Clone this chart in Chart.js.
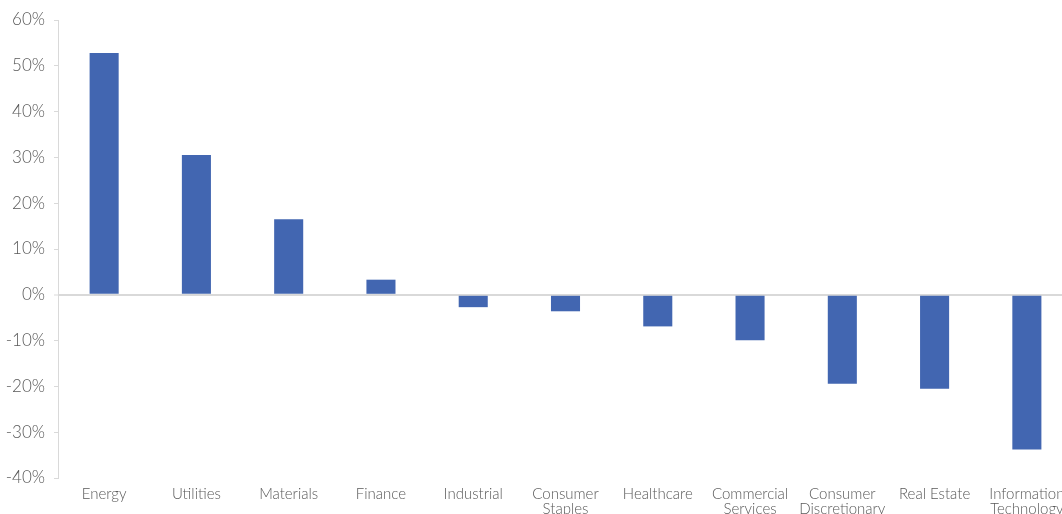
<!DOCTYPE html>
<html>
<head>
<meta charset="utf-8">
<script src="https://cdn.jsdelivr.net/npm/chart.js@4/dist/chart.umd.min.js"></script>
<style>
  html, body { margin: 0; padding: 0; background: #ffffff; overflow: hidden; }
  #wrap { position: absolute; left: 0; top: 0; width: 1075px; height: 524px; }
</style>
</head>
<body>
<div id="wrap"><canvas id="chart"></canvas></div>
<script>
// Sector returns, in percent
const sectors = [
  'Energy', 'Utilities', 'Materials', 'Finance', 'Industrial',
  ['Consumer', 'Staples'], 'Healthcare', ['Commercial', 'Services'],
  ['Consumer', 'Discretionary'], 'Real Estate', ['Information', 'Technology']
];
const returns = [52.8, 30.5, 16.5, 3.3, -2.7, -3.6, -6.9, -9.9, -19.4, -20.5, -33.8];
const yTicks = [60, 50, 40, 30, 20, 10, 0, -10, -20, -30, -40];

const barBlue = '#4266b1';
const textGrey = '#595959';
const lineGrey = '#d9d9d9';
const fontFamily = "Lato, 'Open Sans', sans-serif";

new Chart(document.getElementById('chart'), {
  type: 'bar',
  data: {
    labels: sectors,
    datasets: [{
      data: returns,
      backgroundColor: barBlue,
      borderWidth: 0,
      barPercentage: 0.315,
      categoryPercentage: 1.0
    }]
  },
  options: {
    responsive: true,
    maintainAspectRatio: false,
    animation: false,
    devicePixelRatio: 1,
    layout: { padding: { top: 20, left: 0, right: 2, bottom: 0 } },
    plugins: { legend: { display: false }, tooltip: { enabled: false } },
    scales: {
      x: {
        offset: true,
        afterFit: (axis) => { axis.height = 46; },
        grid: { display: false, drawTicks: false },
        border: { display: false },
        ticks: {
          color: textGrey,
          autoSkip: false,
          maxRotation: 0,
          padding: 9,
          font: { family: fontFamily, size: 15, weight: '300', lineHeight: 1.0 }
        }
      },
      y: {
        min: -40,
        max: 60,
        afterFit: (axis) => { axis.width = 58; },
        afterBuildTicks: (axis) => { axis.ticks = yTicks.map(v => ({ value: v })); },
        grid: {
          drawOnChartArea: true,
          color: (ctx) => (ctx.tick && ctx.tick.value === 0 ? lineGrey : 'rgba(0,0,0,0)'),
          lineWidth: (ctx) => (ctx.tick && ctx.tick.value === 0 ? 2 : 1),
          tickColor: lineGrey,
          tickLength: 4,
          tickWidth: 1
        },
        border: { display: true, color: lineGrey, width: 1 },
        ticks: {
          color: textGrey,
          padding: 9,
          font: { family: fontFamily, size: 17, weight: '300' },
          callback: (v) => v + '%'
        }
      }
    }
  }
});
</script>
</body>
</html>
